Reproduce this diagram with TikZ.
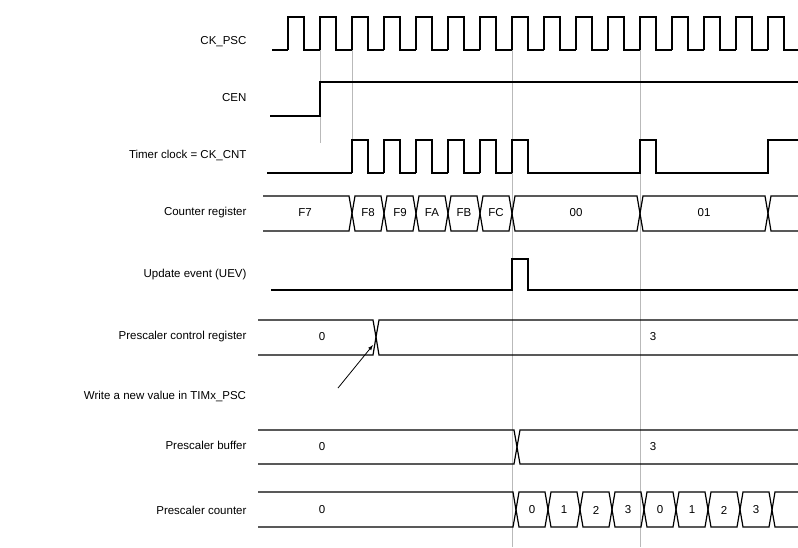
\documentclass[tikz,border=0pt]{standalone}
\usepackage{fontspec}
\setmainfont{Liberation Sans}
\usetikzlibrary{positioning}

% one bus cell from #1 to #2, top #3, bottom #4
\newcommand{\buscell}[4]{%
  \draw [sig] (#1,{(#3+#4)/2}) -- (#1+3,#3) -- (#2-3,#3) -- (#2,{(#3+#4)/2})
    -- (#2-3,#4) -- (#1+3,#4) -- cycle;}

\begin{document}
\begin{tikzpicture}
    [
    x=1pt,y=-1pt,
    sig/.style={line width=1.2pt,line join=miter},
    guide/.style={gray!55,line width=0.6pt},
    lbl/.style={anchor=east,font=\fontsize{11.5}{13}\selectfont},
    val/.style={font=\fontsize{11.5}{13}\selectfont},
    ]
    \useasboundingbox (0,0) rectangle (798,547);

    % guides
    \draw [guide] (320,50) -- (320,143);
    \draw [guide] (352,50) -- (352,173);
    \draw [guide] (512,50) -- (512,547);
    \draw [guide] (640,50) -- (640,547);

    % labels
    \node (lpsc) at (250,42) [lbl] {CK\_PSC};
    \node (lcen) at (250,98) [lbl] {CEN};
    \node (lcnt) at (250,155) [lbl] {Timer clock = CK\_CNT};
    \node (lreg) at (250,213) [lbl] {Counter register};
    \node (luev) at (250,275) [lbl] {Update event (UEV)};
    \node (lctl) at (250,337) [lbl] {Prescaler control register};
    \node (lbuf) at (250,445) [lbl] {Prescaler buffer};
    \node (lpc) at (250,510) [lbl] {Prescaler counter};

    % CK_PSC
    \draw [sig] (272,50) -- (288,50);
    \foreach \k in {0,...,15} {
      \pgfmathsetmacro{\xr}{288+32*\k}
      \draw [sig] (\xr,50) -- (\xr,17) -- (\xr+16,17) -- (\xr+16,50) -- ({min(\xr+32,798)},50);
    }

    % CEN
    \draw [sig] (270,116) -- (320,116) -- (320,82) -- (798,82);

    % CK_CNT
    \draw [sig] (267,173) -- (352,173);
    \foreach \k in {0,...,5} {
      \pgfmathsetmacro{\xr}{352+32*\k}
      \draw [sig] (\xr,173) -- (\xr,140) -- (\xr+16,140) -- (\xr+16,173) -- (\xr+32,173);
    }
    \draw [sig] (544,173) -- (640,173) -- (640,140) -- (656,140) -- (656,173)
      -- (768,173) -- (768,140) -- (798,140);

    % counter register
    \draw [sig] (263,196) -- (349,196) -- (352,213) -- (349,231) -- (263,231);
    \node (f7) at (305,213) [val] {F7};
    \foreach \v [count=\i from 0] in {F8,F9,FA,FB,FC} {
      \pgfmathsetmacro{\xa}{352+32*\i}
      \buscell{\xa}{\xa+32}{196}{231}
      \node (c\i) at (\xa+16,213) [val] {\v};
    }
    \buscell{512}{640}{196}{231}
    \node (c00) at (576,213) [val] {00};
    \buscell{640}{768}{196}{231}
    \node (c01) at (704,213) [val] {01};
    \draw [sig] (798,196) -- (771,196) -- (768,213) -- (771,231) -- (798,231);

    % UEV
    \draw [sig] (271,290) -- (512,290) -- (512,259) -- (528,259) -- (528,290) -- (798,290);

    % prescaler control register
    \draw [sig] (258,320) -- (373,320) -- (376,337) -- (373,355) -- (258,355);
    \draw [sig] (798,320) -- (379,320) -- (376,337) -- (379,355) -- (798,355);
    \node (ctl0) at (322,337) [val] {0};
    \node (ctl3) at (653,337) [val] {3};

    \node (wr) at (165,396) [val] {Write a new value in TIMx\_PSC};
    \coordinate (wrs) at (338,388);
    \coordinate (wre) at (373,345);
    \draw [-latex,line width=0.8pt] (wrs) to (wre);

    % prescaler buffer
    \draw [sig] (258,430) -- (514,430) -- (517,447) -- (514,464) -- (258,464);
    \draw [sig] (798,430) -- (520,430) -- (517,447) -- (520,464) -- (798,464);
    \node (buf0) at (322,447) [val] {0};
    \node (buf3) at (653,447) [val] {3};

    % prescaler counter
    \draw [sig] (258,492) -- (513,492) -- (516,510) -- (513,527) -- (258,527);
    \node (pc) at (322,510) [val] {0};
    \foreach \v [count=\i from 0] in {0,1,2,3,0,1,2,3} {
      \pgfmathsetmacro{\xa}{516+32*\i}
      \buscell{\xa}{\xa+32}{492}{527}
      \node (p\i) at (\xa+16,510) [val] {\v};
    }
    \draw [sig] (798,492) -- (775,492) -- (772,510) -- (775,527) -- (798,527);
  \end{tikzpicture}
\end{document}
